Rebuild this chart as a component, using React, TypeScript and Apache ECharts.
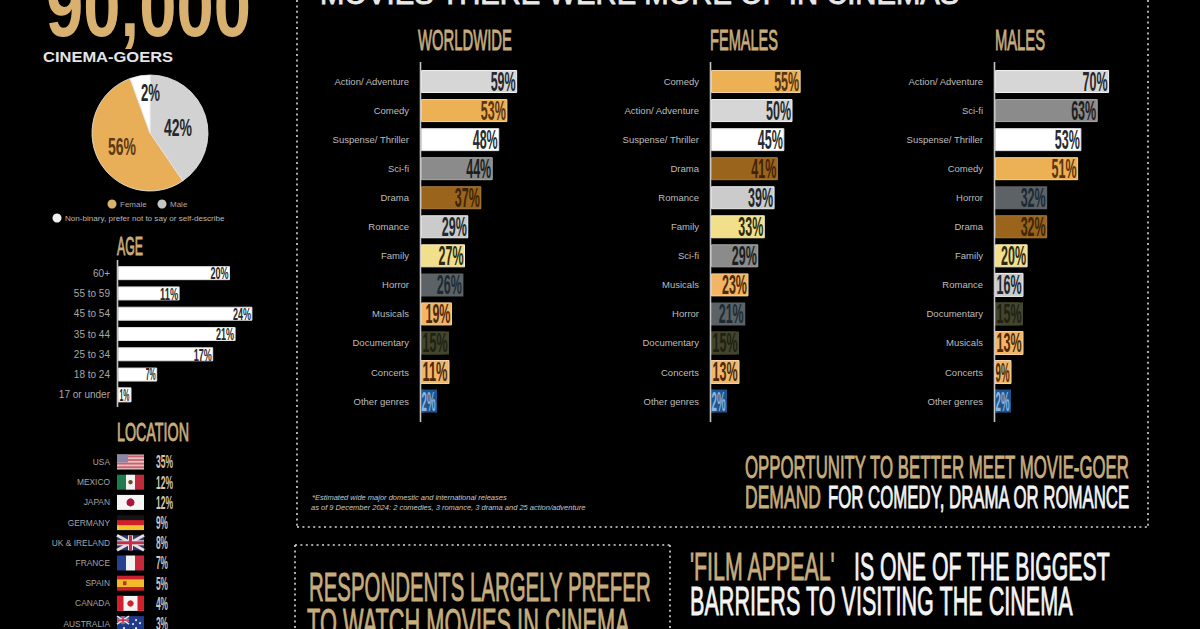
import React, { useEffect, useRef } from "react";
import * as echarts from "echarts";

const genreStyles: Record<string, { fill: string; ink: string; edge?: string }> = {
  "Action/ Adventure": { fill: "#d6d6d6", ink: "#26282c", edge: "#f2f2f2" },
  Comedy: { fill: "#ecb055", ink: "#5b3410", edge: "#f3d49a" },
  "Suspense/ Thriller": { fill: "#ffffff", ink: "#2a2d30", edge: "#dddddd" },
  "Sci-fi": { fill: "#8b8b8b", ink: "#1c1e20", edge: "#a8a8a8" },
  Drama: { fill: "#9a641c", ink: "#3f2407", edge: "#a97c3a" },
  Romance: { fill: "#cbcbcb", ink: "#20292e", edge: "#ececec" },
  Family: { fill: "#f2df8c", ink: "#2c2a10", edge: "#f8eebf" },
  Horror: { fill: "#5c6266", ink: "#1d2a33" },
  Musicals: { fill: "#f2b566", ink: "#4e2a08", edge: "#f6cf9b" },
  Documentary: { fill: "#43452d", ink: "#1f2113" },
  Concerts: { fill: "#f0b76c", ink: "#4e2a08", edge: "#f6d5a6" },
  "Other genres": { fill: "#1c558f", ink: "#8db4dc" },
};

const worldCats = ["Action/ Adventure", "Comedy", "Suspense/ Thriller", "Sci-fi", "Drama", "Romance", "Family", "Horror", "Musicals", "Documentary", "Concerts", "Other genres"];
const worldVals = [59, 53, 48, 44, 37, 29, 27, 26, 19, 15, 11, 2];
const femaleCats = ["Comedy", "Action/ Adventure", "Suspense/ Thriller", "Drama", "Romance", "Family", "Sci-fi", "Musicals", "Horror", "Documentary", "Concerts", "Other genres"];
const femaleVals = [55, 50, 45, 41, 39, 33, 29, 23, 21, 15, 13, 2];
const maleCats = ["Action/ Adventure", "Sci-fi", "Suspense/ Thriller", "Comedy", "Horror", "Drama", "Family", "Romance", "Documentary", "Musicals", "Concerts", "Other genres"];
const maleVals = [70, 63, 53, 51, 32, 32, 20, 16, 15, 13, 9, 2];

const ageCats = ["60+", "55 to 59", "45 to 54", "35 to 44", "25 to 34", "18 to 24", "17 or under"];
const ageVals = [20, 11, 24, 21, 17, 7, 1];

const genderNames = ["Male", "Female", "Non-binary, prefer not to say or self-describe"];
const genderVals = [42, 56, 2];
const genderColors = ["#d2d2d2", "#e8ae58", "#ffffff"];

const locNames = ["USA", "MEXICO", "JAPAN", "GERMANY", "UK & IRELAND", "FRANCE", "SPAIN", "CANADA", "AUSTRALIA"];
const locVals = [35, 12, 12, 9, 8, 7, 5, 4, 3];

const GOLD = "#c8ad7c";
const BRIGHT_GOLD = "#d8b070";
const WHITE = "#f4f4f4";
const FONT = "Liberation Sans";

const ctx = document.createElement("canvas").getContext("2d") as CanvasRenderingContext2D;
function measure(text: string, size: number, weight: string) {
  ctx.font = `${weight} ${size}px "${FONT}"`;
  return ctx.measureText(text).width || 1;
}

// squeezed text: fitted to a target width and cap-height, left aligned
function fit(text: string, x: number, top: number, bottom: number, width: number, fill: string, weight = "bold", strokeW = 0) {
  const size = (bottom - top) / 0.69;
  return {
    type: "text",
    x,
    y: (top + bottom) / 2,
    z: 100,
    scaleX: width / measure(text, size, weight),
    silent: true,
    style: {
      text, fill, fontFamily: FONT, fontSize: size, fontWeight: weight,
      textAlign: "left", textVerticalAlign: "middle", align: "left", verticalAlign: "middle",
      ...(strokeW ? { stroke: fill, lineWidth: strokeW } : {}),
    },
  };
}

function plain(text: string, x: number, y: number, size: number, fill: string, align = "left", extra: any = {}) {
  return {
    type: "text",
    x,
    y,
    z: 100,
    silent: true,
    style: { text, fill, fontFamily: FONT, fontSize: size, textAlign: align, align, textVerticalAlign: "middle", verticalAlign: "middle", ...extra },
  };
}

function dotted(x1: number, y1: number, x2: number, y2: number) {
  return { type: "line", silent: true, shape: { x1, y1, x2, y2 }, style: { stroke: "#d8d8d8", lineWidth: 1.6, lineDash: [2, 3.4] } };
}

function axisRule(x: number, y1: number, y2: number) {
  return { type: "line", silent: true, z: 100, shape: { x1: x, y1, x2: x, y2 }, style: { stroke: "#c4c4c4", lineWidth: 1.6 } };
}

function r(x: number, y: number, w: number, h: number, fill: string) {
  return { type: "rect", silent: true, shape: { x, y, width: w, height: h }, style: { fill } };
}

const FW = 27;
const FH = 15;
function flag(name: string, x: number, y: number): any[] {
  const out: any[] = [];
  const unionJack = (w: number, h: number) => [
    r(x, y, w, h, "#2a3a78"),
    { type: "line", silent: true, shape: { x1: x, y1: y, x2: x + w, y2: y + h }, style: { stroke: "#e8dfe0", lineWidth: h / 5 } },
    { type: "line", silent: true, shape: { x1: x + w, y1: y, x2: x, y2: y + h }, style: { stroke: "#e8dfe0", lineWidth: h / 5 } },
    r(x + w / 2 - h / 6, y, h / 3, h, "#e8dfe0"),
    r(x, y + h / 3, w, h / 3, "#e8dfe0"),
    r(x + w / 2 - h / 10, y, h / 5, h, "#c0304a"),
    r(x, y + h * 0.4, w, h / 5, "#c0304a"),
  ];
  switch (name) {
    case "USA":
      out.push(r(x, y, FW, FH, "#e6c0c4"));
      [0, 1, 2, 3].forEach((i) => out.push(r(x, y + 1 + i * 3.6, FW, 1.8, "#c8616c")));
      out.push(r(x, y, 11, 8, "#8b86a8"));
      break;
    case "MEXICO":
      out.push(r(x, y, 9, FH, "#1f7a4e"), r(x + 9, y, 9, FH, "#f2f2f2"), r(x + 18, y, 9, FH, "#c02b3c"));
      out.push({ type: "circle", silent: true, shape: { cx: x + 13.5, cy: y + 7.5, r: 2.2 }, style: { fill: "#6b4a28" } });
      break;
    case "JAPAN":
      out.push(r(x, y, FW, FH, "#f6f6f6"));
      out.push({ type: "circle", silent: true, shape: { cx: x + 13.5, cy: y + 7.5, r: 4 }, style: { fill: "#a8173a" } });
      break;
    case "GERMANY":
      out.push(r(x, y, FW, 5, "#141414"), r(x, y + 5, FW, 5, "#d0202c"), r(x, y + 10, FW, 5, "#f2c230"));
      break;
    case "UK & IRELAND":
      out.push(...unionJack(FW, FH));
      break;
    case "FRANCE":
      out.push(r(x, y, 9, FH, "#27408f"), r(x + 9, y, 9, FH, "#f2f2f2"), r(x + 18, y, 9, FH, "#c8283c"));
      break;
    case "SPAIN":
      out.push(r(x, y, FW, FH, "#c8202c"), r(x, y + 3.7, FW, 7.6, "#f3b92b"), r(x + 6, y + 5.5, 3.5, 4, "#a8421c"));
      break;
    case "CANADA":
      out.push(r(x, y, FW, FH, "#f4f4f4"), r(x, y, 6.5, FH, "#d0202c"), r(x + 20.5, y, 6.5, FH, "#d0202c"));
      out.push({ type: "circle", silent: true, shape: { cx: x + 13.5, cy: y + 7.5, r: 3.2 }, style: { fill: "#d0202c" } });
      break;
    default:
      out.push(r(x, y, FW, FH, "#1f3a8a"));
      out.push(...unionJack(12, 8));
      [[19, 4], [23, 7], [19, 12], [16, 8], [7, 12]].forEach(([dx, dy]) =>
        out.push({ type: "circle", silent: true, shape: { cx: x + dx, cy: y + dy, r: 1 }, style: { fill: "#eeeeee" } })
      );
  }
  return out;
}

function panelSeries(
  idx: number,
  cats: string[],
  vals: number[],
  styleOf: (c: string) => { fill: string; ink: string; edge?: string },
  opts: { barH: number; capH: number; wide: number; narrow: number; padWide: number; padNarrow: number }
): any[] {
  const bar = {
    type: "bar",
    xAxisIndex: idx,
    yAxisIndex: idx,
    barWidth: opts.barH,
    silent: true,
    z: 2,
    data: vals.map((v, i) => {
      const s = styleOf(cats[i]);
      return { value: v, itemStyle: { color: s.fill, borderColor: s.edge || s.fill, borderWidth: s.edge ? 1 : 0 } };
    }),
  };
  const labels = {
    type: "custom",
    xAxisIndex: idx,
    yAxisIndex: idx,
    silent: true,
    z: 6,
    data: vals.map((v, i) => [v, i]),
    encode: { x: 0, y: 1 },
    renderItem: (params: any, api: any) => {
      const i = params.dataIndex;
      const v = vals[i];
      const s = styleOf(cats[i]);
      const end = api.coord([v, i]);
      const base = api.coord([0, i]);
      const text = `${v}%`;
      const pad = v >= 10 ? opts.padWide : opts.padNarrow;
      const right = Math.max(end[0], base[0] + pad);
      const size = opts.capH / 0.69;
      const target = v >= 10 ? opts.wide : opts.narrow;
      const children: any[] = [];
      if (right > end[0]) {
        children.push({
          type: "rect",
          shape: { x: base[0], y: end[1] - opts.barH / 2, width: right - base[0], height: opts.barH },
          style: { fill: s.fill, stroke: s.edge || s.fill, lineWidth: s.edge ? 1 : 0 },
        });
      }
      children.push({
        type: "text",
        x: right - 1.5,
        y: end[1],
        scaleX: target / measure(text, size, "bold"),
        style: { text, fill: s.ink, fontFamily: FONT, fontSize: size, fontWeight: "bold", align: "right", verticalAlign: "middle", textAlign: "right", textVerticalAlign: "middle" },
      });
      return { type: "group", children };
    },
  };
  return [bar, labels];
}

const grids = [
  { left: 421, top: 67, width: 163, height: 348.6 },
  { left: 711, top: 67, width: 163, height: 348.6 },
  { left: 995, top: 67, width: 163, height: 348.6 },
  { left: 118, top: 263, width: 168, height: 142 },
];
const axisMax = [100, 100, 100, 30];
const allCats = [worldCats, femaleCats, maleCats, ageCats];

export default function App() {
  const ref = useRef<HTMLDivElement>(null);
  useEffect(() => {
    document.body.style.margin = "0";
    document.body.style.background = "#000";
    const chart = echarts.init(ref.current as HTMLDivElement, undefined, { renderer: "svg" });

    const genreOpts = { barH: 23, capH: 19, wide: 25, narrow: 14, padWide: 28, padNarrow: 16 };
    const ageOpts = { barH: 14, capH: 12, wide: 18, narrow: 10, padWide: 20, padNarrow: 13 };
    const whiteBar = () => ({ fill: "#ffffff", ink: "#26282c", edge: "#e0e0e0" });
    const thin = "normal";
    const sw = 0.9;

    const graphics: any[] = [
      // outer frames
      dotted(297, 0, 297, 527),
      dotted(297, 527, 1148, 527),
      dotted(1148, 0, 1148, 527),
      dotted(295, 545, 670, 545),
      dotted(295, 545, 295, 629),
      dotted(670, 545, 670, 629),

      // header fragments
      fit("90,000", 46, -24, 35, 205, BRIGHT_GOLD),
      fit("CINEMA-GOERS", 43, 52, 62, 130, "#e4e4e4"),
      fit("MOVIES THERE WERE MORE OF IN CINEMAS", 320, -17, 4, 640, "#e8e8e8", thin, sw),
      fit("WORLDWIDE", 418, 30, 50, 94, GOLD, thin, sw),
      fit("FEMALES", 710, 30, 50, 68, GOLD, thin, sw),
      fit("MALES", 995, 30, 50, 50, GOLD, thin, sw),
      fit("AGE", 117, 237, 255, 26, GOLD, thin, sw),
      fit("LOCATION", 117, 423, 441, 72, GOLD, thin, sw),

      // axis rules
      axisRule(420.5, 62, 422),
      axisRule(710.5, 62, 422),
      axisRule(994.5, 62, 422),
      axisRule(117.5, 260, 407),

      // pie labels
      fit(`${genderVals[0]}%`, 164, 120, 136, 28, "#26282c"),
      fit(`${genderVals[1]}%`, 108, 139, 155, 28, "#5b3a14"),
      fit(`${genderVals[2]}%`, 141, 85, 101, 19, "#26282c"),

      // pie legend
      { type: "circle", silent: true, shape: { cx: 112, cy: 204, r: 4.5 }, style: { fill: "#d8b070" } },
      plain("Female", 120, 204, 8, "#a8a8a8"),
      { type: "circle", silent: true, shape: { cx: 162, cy: 204, r: 4.5 }, style: { fill: "#c4c4c4" } },
      plain("Male", 170, 204, 8, "#a8a8a8"),
      { type: "circle", silent: true, shape: { cx: 57, cy: 218, r: 4.5 }, style: { fill: "#f0f0f0" } },
      plain(genderNames[2], 65, 218, 8.1, "#b8b8b8"),

      // footnote
      plain("*Estimated wide major domestic and international releases", 312, 497, 7.5, "#c8c8c8", "left", { fontStyle: "italic" }),
      plain("as of 9 December 2024: 2 comedies, 3 romance, 3 drama and 25 action/adventure", 311, 507, 7.5, "#c8c8c8", "left", { fontStyle: "italic" }),

      // callouts
      fit("OPPORTUNITY TO BETTER MEET MOVIE-GOER", 745, 457, 478, 385, GOLD, thin, sw),
      fit("DEMAND", 745, 487, 508, 76, GOLD, thin, sw),
      fit("FOR COMEDY, DRAMA OR ROMANCE", 828, 487, 508, 302, WHITE, thin, sw),
      fit("RESPONDENTS LARGELY PREFER", 309, 573, 601, 342, GOLD, thin, sw),
      fit("TO WATCH MOVIES IN CINEMA", 307, 609, 637, 323, GOLD, thin, sw),
      fit("'FILM APPEAL'", 690, 553, 580, 146, GOLD, thin, sw),
      fit("IS ONE OF THE BIGGEST", 854, 553, 580, 256, WHITE, thin, sw),
      fit("BARRIERS TO VISITING THE CINEMA", 690, 587, 615, 383, WHITE, thin, sw),
    ];

    locNames.forEach((name, i) => {
      const y = 462 + i * 20.2;
      graphics.push(plain(name, 110, y, 8.4, "#a4a4a4", "right"));
      graphics.push(...flag(name, 117, y - 7.5));
      graphics.push(fit(`${locVals[i]}%`, 156, y - 6.5, y + 6.5, locVals[i] >= 10 ? 17 : 12, "#cfc8b8"));
    });

    chart.setOption({
      animation: false,
      backgroundColor: "#000000",
      tooltip: { show: false },
      grid: grids.map((g) => ({ ...g, containLabel: false })),
      xAxis: grids.map((_, i) => ({ type: "value", gridIndex: i, min: 0, max: axisMax[i], show: false })),
      yAxis: grids.map((_, i) => ({
        type: "category",
        gridIndex: i,
        inverse: true,
        data: allCats[i],
        axisLine: { show: false },
        axisTick: { show: false },
        axisLabel: {
          color: i === 3 ? "#a8a8a8" : "#bdbdbd",
          fontFamily: FONT,
          fontSize: i === 3 ? 10 : 9.5,
          margin: i === 3 ? 8 : 12,
          interval: 0,
          padding: i === 3 ? [2, 0, 0, 0] : [7, 0, 0, 0],
        },
      })),
      series: [
        {
          type: "pie",
          silent: true,
          center: [150, 133],
          radius: [0, 58],
          startAngle: 90,
          clockwise: true,
          minAngle: 20,
          label: { show: false },
          labelLine: { show: false },
          itemStyle: { borderColor: "#eeeeee", borderWidth: 0.8 },
          data: genderNames.map((name, i) => ({ name, value: genderVals[i], itemStyle: { color: genderColors[i] } })),
        },
        ...panelSeries(0, worldCats, worldVals, (c) => genreStyles[c], genreOpts),
        ...panelSeries(1, femaleCats, femaleVals, (c) => genreStyles[c], genreOpts),
        ...panelSeries(2, maleCats, maleVals, (c) => genreStyles[c], genreOpts),
        ...panelSeries(3, ageCats, ageVals, whiteBar, ageOpts),
      ],
      graphic: { elements: graphics },
    });
    return () => chart.dispose();
  }, []);
  return <div ref={ref} style={{ position: "fixed", left: 0, top: 0, width: 1200, height: 629 }} />;
}
